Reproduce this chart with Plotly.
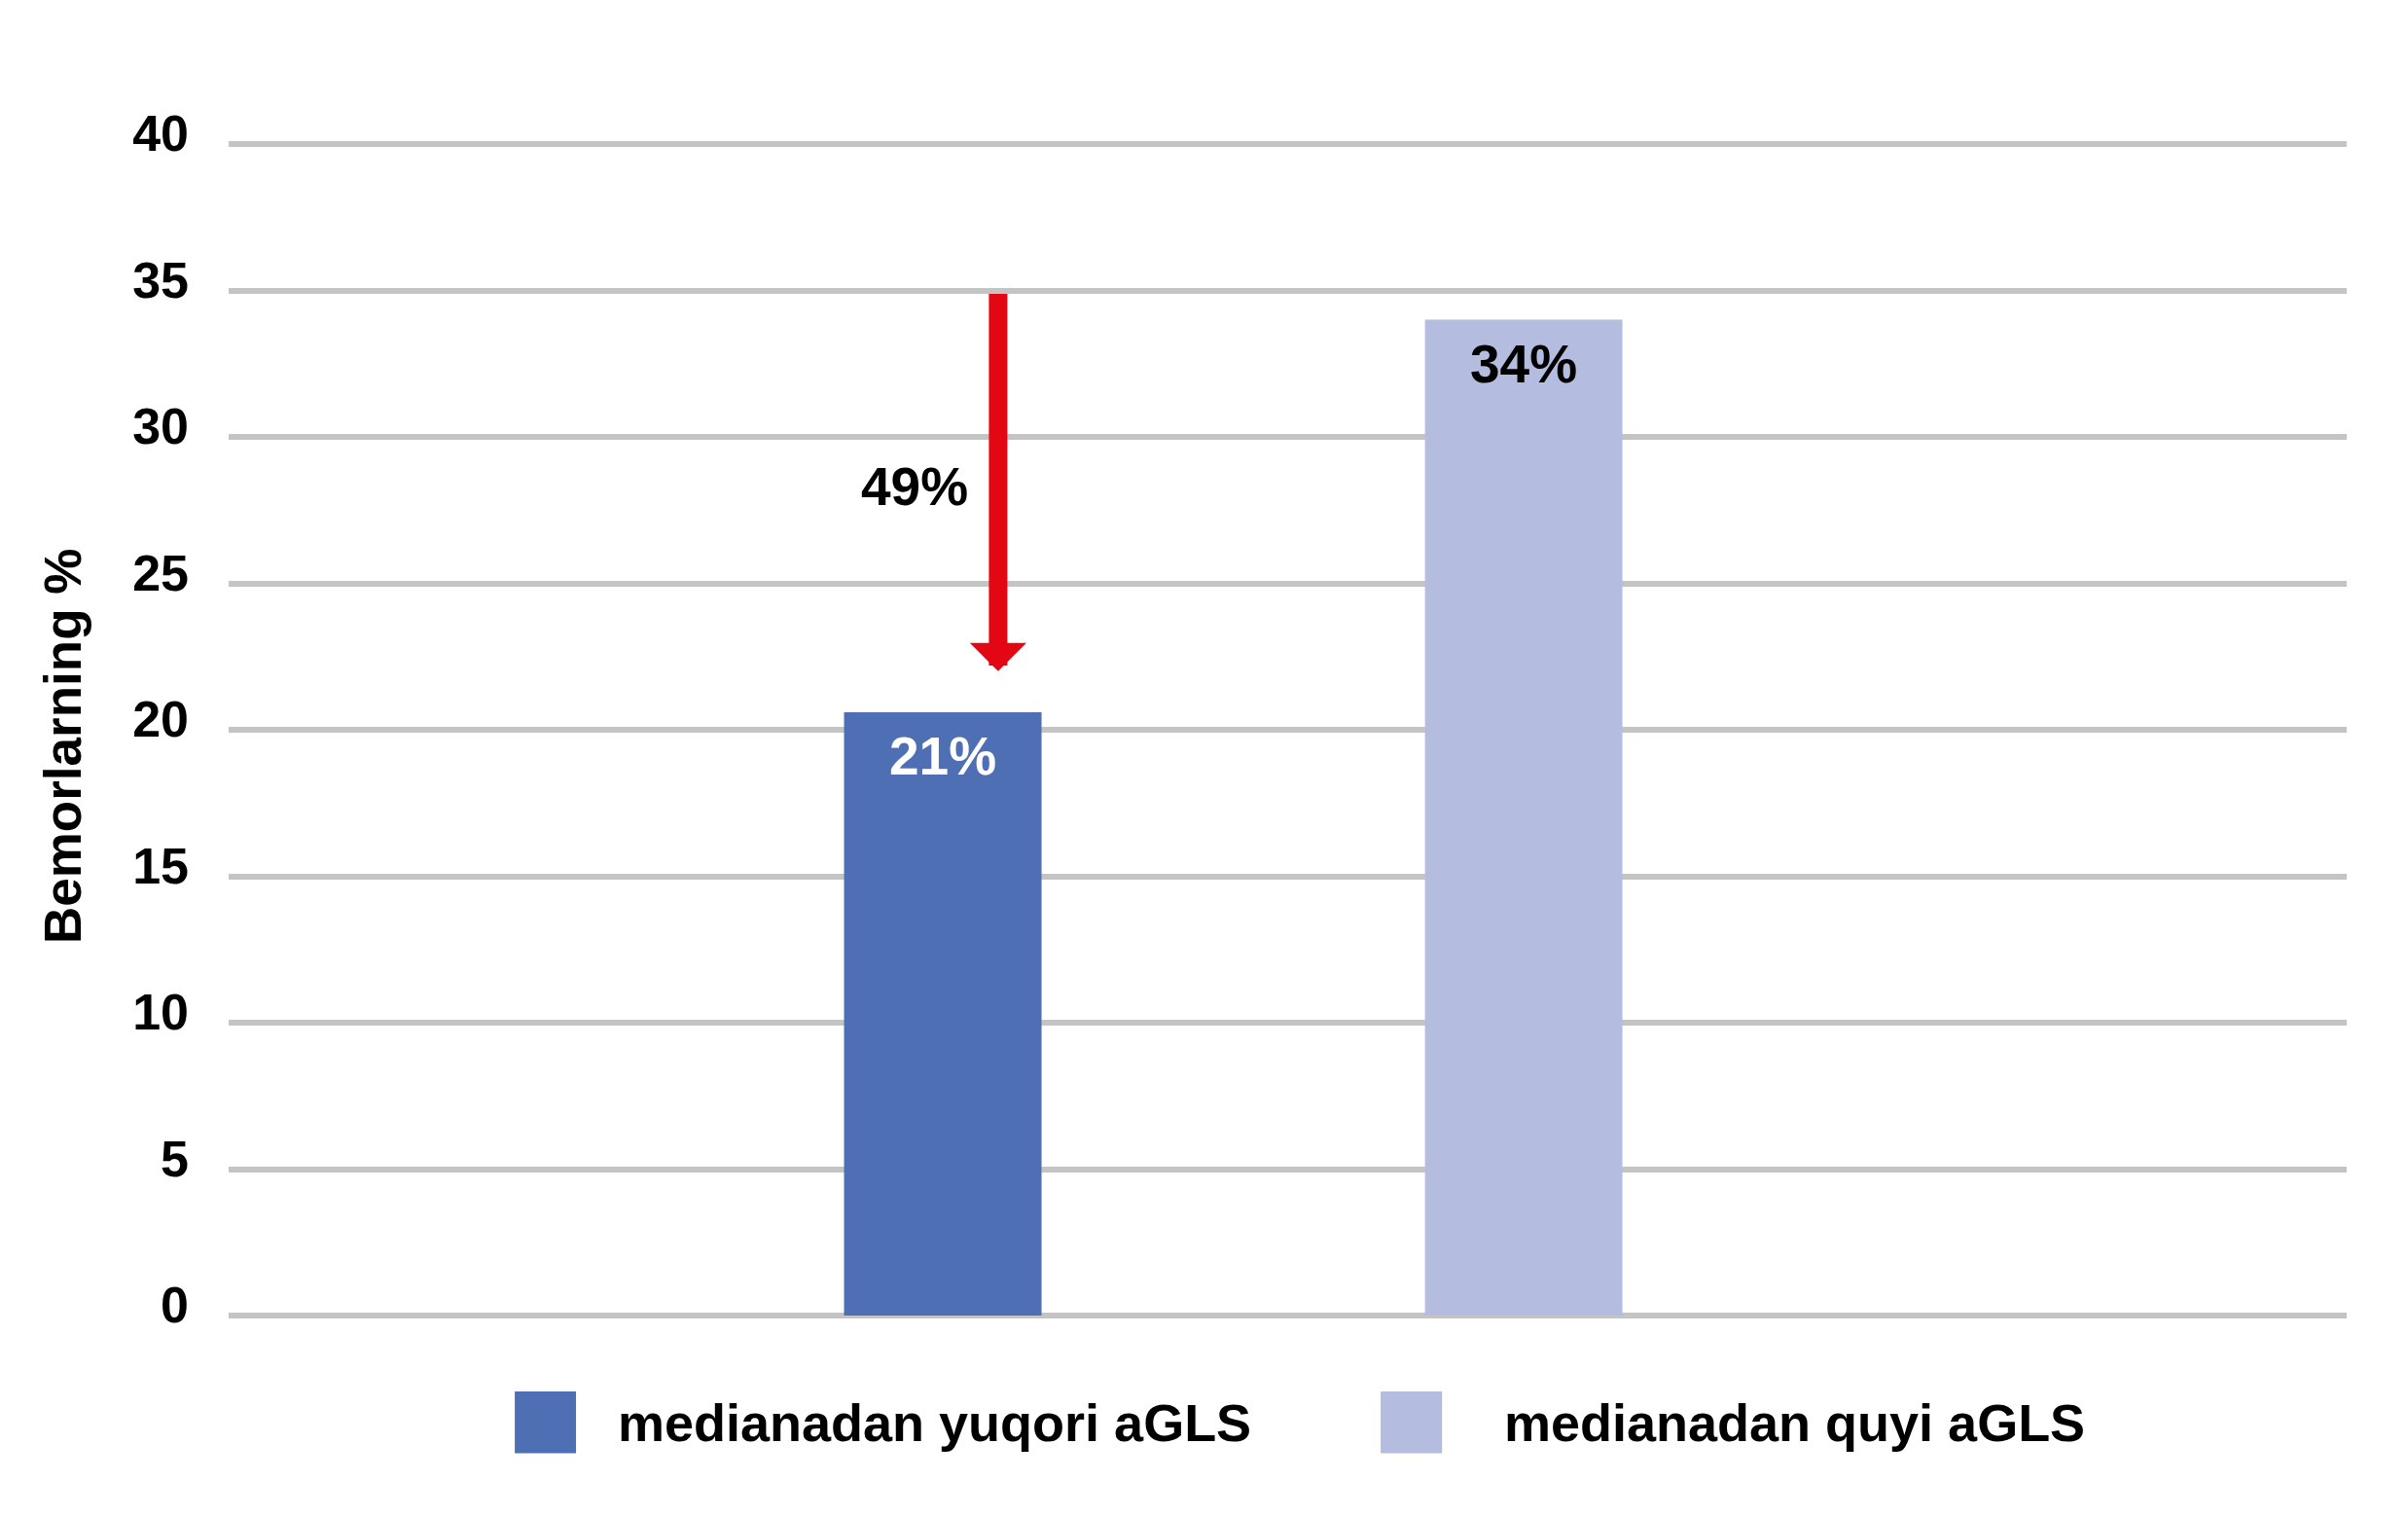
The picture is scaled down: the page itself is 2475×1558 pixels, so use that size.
import plotly.graph_objects as go

# ---- data ----
group = ["aGLS"]
series_names = ["medianadan yuqori aGLS", "medianadan quyi aGLS"]
values = [20.6, 34.0]
label_colors = ["#FFFFFF", "#000000"]
bar_colors = ["#4E6FB3", "#B4BDE0"]
y_ticks = [0, 5, 10, 15, 20, 25, 30, 35, 40]
y_title = "Bemorlarning %"
arrow_from = 34.93
arrow_to = 22.0
arrow_label = "49%"
arrow_label_y = 28.3

FONT = "Liberation Sans, Arial, sans-serif"
Y_MAX = 40.2  # small headroom so the 40 gridline is drawn
SLOT_PX = 597  # horizontal distance between the two bar centres

fig = go.Figure()
for name, v, c in zip(series_names, values, bar_colors):
    fig.add_trace(go.Bar(
        x=group, y=[v], name=name, marker=dict(color=c, line=dict(width=0)),
        showlegend=False,
    ))

# value labels inside the top of each bar
for i, (v, tc) in enumerate(zip(values, label_colors)):
    fig.add_annotation(
        x=group[0], y=v, xref="x", yref="y", text=f"{v:.0f}%",
        xshift=(i - 0.5) * SLOT_PX, yshift=-12, xanchor="center", yanchor="top",
        showarrow=False, font=dict(family=FONT, size=55, color=tc, weight="bold"),
    )

ARROW_X = -0.111
fig.add_annotation(
    x=ARROW_X, y=arrow_to, ax=ARROW_X, ay=arrow_from, xref="x", yref="y",
    axref="x", ayref="y", text="", showarrow=True, arrowhead=1,
    arrowwidth=19, arrowsize=0.51, arrowcolor="#E30613", standoff=0,
)
fig.add_annotation(
    x=-0.1504, y=arrow_label_y, xref="x", yref="y", text=arrow_label,
    xanchor="center", yanchor="middle",
    showarrow=False, font=dict(family=FONT, size=55, color="#000000", weight="bold"),
)

# y-axis title
fig.add_annotation(
    x=-0.078, y=0.4836, xref="paper", yref="paper", text=y_title, textangle=-90,
    xanchor="center", yanchor="middle",
    showarrow=False, font=dict(family=FONT, size=53, color="#000000", weight="bold"),
)

# custom legend
leg_sq_x = [(0.1351, 0.1640), (0.5439, 0.5729)]
leg_txt_x = [0.1830, 0.6015]
for (x0, x1), tx, name, c in zip(leg_sq_x, leg_txt_x, series_names, bar_colors):
    fig.add_shape(type="rect", xref="paper", yref="paper", x0=x0, x1=x1,
                  y0=-0.1169, y1=-0.0645, fillcolor=c, line=dict(width=0))
    fig.add_annotation(x=tx, y=-0.0907, xref="paper", yref="paper", text=name,
                       xanchor="left", yanchor="middle", showarrow=False,
                       font=dict(family=FONT, size=54, color="#000000", weight="bold"))

fig.update_layout(
    width=2475, height=1558,
    margin=dict(l=235, r=63, t=142, b=206),
    paper_bgcolor="white", plot_bgcolor="white",
    barmode="group", bargap=0.4515, bargroupgap=0.66,
    font=dict(family=FONT, size=52, color="#000000", weight="bold"),
    showlegend=False,
    xaxis=dict(range=[-0.4743, 0.5257], showticklabels=False, showgrid=False,
               zeroline=False, showline=False, ticks=""),
    yaxis=dict(range=[0, Y_MAX], tickvals=y_ticks, showgrid=True, gridcolor="#C4C4C4",
               gridwidth=6, zeroline=True, zerolinecolor="#C4C4C4", zerolinewidth=6,
               showline=False, ticks="", ticklabelstandoff=40, ticklabelshift=-11,
               tickfont=dict(family=FONT, size=52, color="#000000", weight="bold")),
)

fig.write_html("out.html", config={"displayModeBar": False},
               post_script="document.body.style.margin='0';document.body.style.overflow='hidden';")
